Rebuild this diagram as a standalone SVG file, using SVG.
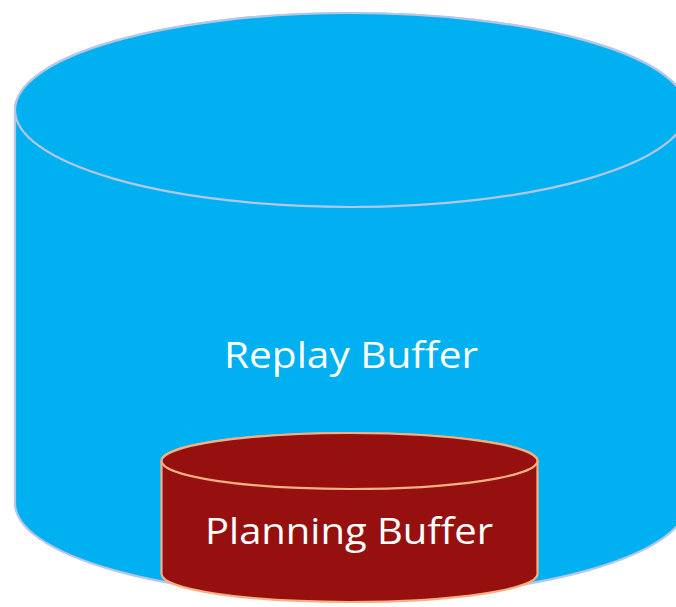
<svg xmlns="http://www.w3.org/2000/svg" width="676" height="607" viewBox="0 0 676 607">
  <style>
    .outer { fill: #00B0F0; stroke: #B4C7E7; stroke-width: 2.2; }
    .inner { fill: #961010; stroke: #F4B183; stroke-width: 2.2; }
    .label { font-family: "Open Sans", "Liberation Sans", sans-serif; font-size: 36px; fill: #FFFFFF; text-anchor: middle; }
  </style>
  <rect width="676" height="607" fill="#FFFFFF"/>

  <!-- outer storage cylinder -->
  <g id="replay-buffer">
    <path class="outer" d="M 15 110 L 15 503 A 336 95 0 0 0 687 503 L 687 110 A 336 97 0 0 0 15 110 Z"/>
    <ellipse class="outer" cx="351" cy="110" rx="336" ry="97"/>
    <text class="label" x="351" y="368" textLength="254" lengthAdjust="spacingAndGlyphs">Replay Buffer</text>
  </g>

  <!-- inner storage cylinder -->
  <g id="planning-buffer">
    <path class="inner" d="M 161.5 461 L 161.5 574 A 188 28 0 0 0 537.5 574 L 537.5 461 A 188 28 0 0 0 161.5 461 Z"/>
    <ellipse class="inner" cx="349.5" cy="461" rx="188" ry="28"/>
    <text class="label" x="349" y="544" textLength="288" lengthAdjust="spacingAndGlyphs">Planning Buffer</text>
  </g>

  <g id="connectors"></g>
</svg>
